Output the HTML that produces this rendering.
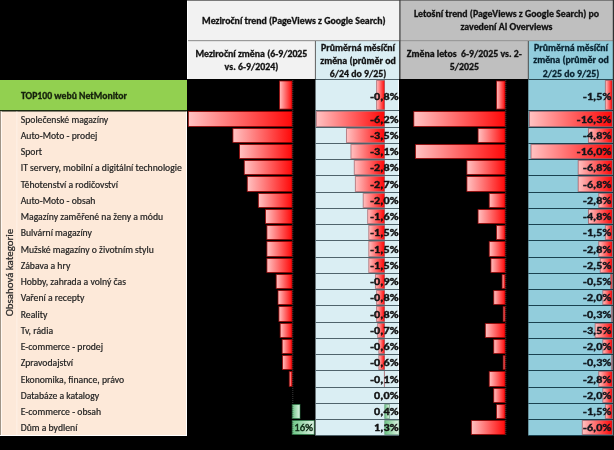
<!DOCTYPE html><html><head><meta charset="utf-8"><style>html,body{margin:0;padding:0;background:#000;overflow:hidden}svg{display:block;filter:blur(0.3px)}</style></head><body>
<svg width="614" height="450" viewBox="0 0 614 450" font-family="Carlito, 'Liberation Sans', sans-serif">
<defs><linearGradient id="gr" x1="0" x2="1" y1="0" y2="0"><stop offset="0" stop-color="#ffc2c2"/><stop offset="1" stop-color="#ff0808"/></linearGradient><linearGradient id="gg" x1="0" x2="1" y1="0" y2="0"><stop offset="0" stop-color="#6cc585"/><stop offset="1" stop-color="#dff3e4"/></linearGradient></defs>
<rect width="614" height="450" fill="#000"/>
<rect x="187" y="0" width="213" height="40.5" fill="#f2f2f2"/>
<rect x="400" y="0" width="214" height="40.5" fill="#bfbfbf"/>
<rect x="187" y="41" width="128.5" height="38" fill="#f2f2f2"/>
<rect x="315.5" y="41" width="84" height="38" fill="#daeef3"/>
<rect x="400" y="41" width="128.3" height="38" fill="#bfbfbf"/>
<rect x="528.3" y="41" width="85.7" height="38" fill="#92cddc"/>
<rect x="187" y="0" width="427" height="1" fill="#7a7a7a"/>
<rect x="187" y="40" width="427" height="1.2" fill="#9a9a9a"/>
<rect x="187" y="1" width="1" height="78" fill="#ffffff"/>
<rect x="399.3" y="0" width="1.2" height="79" fill="#3a3a3a"/>
<rect x="314.9" y="41" width="1" height="38" fill="#666"/>
<rect x="527.8" y="41" width="1" height="38" fill="#555"/>
<text textLength="171.46" lengthAdjust="spacingAndGlyphs" transform="translate(293.80,23.70) scale(1.070,1)" font-size="9.21" font-weight="bold" text-anchor="middle" fill="#111111" stroke="#111111" stroke-width="0.30">Meziroční trend (PageViews z Google Search)</text>
<text textLength="173.13" lengthAdjust="spacingAndGlyphs" transform="translate(506.50,17.00) scale(1.070,1)" font-size="9.21" font-weight="bold" text-anchor="middle" fill="#111111" stroke="#111111" stroke-width="0.30">Letošní trend (PageViews z Google Search) po</text>
<text textLength="85.84" lengthAdjust="spacingAndGlyphs" transform="translate(506.50,29.60) scale(1.070,1)" font-size="9.21" font-weight="bold" text-anchor="middle" fill="#111111" stroke="#111111" stroke-width="0.30">zavedení AI Overviews</text>
<text textLength="104.54" lengthAdjust="spacingAndGlyphs" transform="translate(251.40,57.00) scale(1.070,1)" font-size="9.21" font-weight="bold" text-anchor="middle" fill="#111111" stroke="#111111" stroke-width="0.30">Meziroční změna (6-9/2025</text>
<text textLength="50.09" lengthAdjust="spacingAndGlyphs" transform="translate(251.40,69.90) scale(1.070,1)" font-size="9.21" font-weight="bold" text-anchor="middle" fill="#111111" stroke="#111111" stroke-width="0.30">vs. 6-9/2024)</text>
<text textLength="69.06" lengthAdjust="spacingAndGlyphs" transform="translate(358.00,51.00) scale(1.070,1)" font-size="9.21" font-weight="bold" text-anchor="middle" fill="#111111" stroke="#111111" stroke-width="0.30">Průměrná měsíční</text>
<text textLength="70.61" lengthAdjust="spacingAndGlyphs" transform="translate(358.00,63.60) scale(1.070,1)" font-size="9.21" font-weight="bold" text-anchor="middle" fill="#111111" stroke="#111111" stroke-width="0.30">změna (průměr od</text>
<text textLength="52.73" lengthAdjust="spacingAndGlyphs" transform="translate(358.00,77.00) scale(1.070,1)" font-size="9.21" font-weight="bold" text-anchor="middle" fill="#111111" stroke="#111111" stroke-width="0.30">6/24 do 9/25)</text>
<text textLength="107.49" lengthAdjust="spacingAndGlyphs" transform="translate(464.30,57.00) scale(1.070,1)" font-size="9.21" font-weight="bold" text-anchor="middle" fill="#111111" stroke="#111111" stroke-width="0.30">Změna letos&#160; 6-9/2025 vs. 2-</text>
<text textLength="27.23" lengthAdjust="spacingAndGlyphs" transform="translate(464.30,69.90) scale(1.070,1)" font-size="9.21" font-weight="bold" text-anchor="middle" fill="#111111" stroke="#111111" stroke-width="0.30">5/2025</text>
<text textLength="69.06" lengthAdjust="spacingAndGlyphs" transform="translate(571.00,50.60) scale(1.070,1)" font-size="9.21" font-weight="bold" text-anchor="middle" fill="#08222f" stroke="#08222f" stroke-width="0.30">Průměrná měsíční</text>
<text textLength="70.61" lengthAdjust="spacingAndGlyphs" transform="translate(571.00,63.20) scale(1.070,1)" font-size="9.21" font-weight="bold" text-anchor="middle" fill="#08222f" stroke="#08222f" stroke-width="0.30">změna (průměr od</text>
<text textLength="52.73" lengthAdjust="spacingAndGlyphs" transform="translate(571.00,76.70) scale(1.070,1)" font-size="9.21" font-weight="bold" text-anchor="middle" fill="#08222f" stroke="#08222f" stroke-width="0.30">2/25 do 9/25)</text>
<rect x="0" y="80" width="187" height="30" fill="#92d050"/>
<rect x="0" y="110" width="187" height="1.5" fill="#1a2a10"/>
<rect x="0" y="111.5" width="186.5" height="323.5" fill="#fde9d9"/>
<rect x="0" y="111.5" width="1" height="323.5" fill="#a09486"/>
<rect x="1" y="111.5" width="1" height="323.5" fill="#fff8f2"/>
<rect x="186" y="111.5" width="1" height="324.5" fill="#fff"/>
<rect x="0" y="435" width="187" height="1" fill="#fff"/>
<rect x="16.5" y="111.5" width="0.8" height="323.5" fill="#fff3ec"/>
<text textLength="100.06" lengthAdjust="spacingAndGlyphs" transform="translate(21.00,98.80) scale(1.060,1)" font-size="9.20" font-weight="bold" text-anchor="start" fill="#15200c" stroke="#15200c" stroke-width="0.30">TOP100 webů NetMonitor</text>
<text textLength="87.56" lengthAdjust="spacingAndGlyphs" x="0" y="0" font-size="10.9" font-weight="normal" text-anchor="middle" fill="#2a2a2a" stroke="#2a2a2a" stroke-width="0.25" transform="translate(12.6,272.6) rotate(-90)">Obsahová kategorie</text>
<text textLength="83.75" lengthAdjust="spacingAndGlyphs" transform="translate(20.7,122.80) scale(1.045,1)" font-size="9.3" text-anchor="start" fill="#222" stroke="#222" stroke-width="0.18">Společenské magazíny</text>
<text textLength="73.42" lengthAdjust="spacingAndGlyphs" transform="translate(20.7,138.80) scale(1.045,1)" font-size="9.3" text-anchor="start" fill="#222" stroke="#222" stroke-width="0.18">Auto-Moto - prodej</text>
<text textLength="20.41" lengthAdjust="spacingAndGlyphs" transform="translate(20.7,154.80) scale(1.045,1)" font-size="9.3" text-anchor="start" fill="#222" stroke="#222" stroke-width="0.18">Sport</text>
<text textLength="154.23" lengthAdjust="spacingAndGlyphs" transform="translate(20.7,170.80) scale(1.045,1)" font-size="9.3" text-anchor="start" fill="#222" stroke="#222" stroke-width="0.18">IT servery, mobilní a digitální technologie</text>
<text textLength="93.07" lengthAdjust="spacingAndGlyphs" transform="translate(20.7,187.80) scale(1.045,1)" font-size="9.3" text-anchor="start" fill="#222" stroke="#222" stroke-width="0.18">Těhotenství a rodičovství</text>
<text textLength="71.53" lengthAdjust="spacingAndGlyphs" transform="translate(20.7,203.80) scale(1.045,1)" font-size="9.3" text-anchor="start" fill="#222" stroke="#222" stroke-width="0.18">Auto-Moto - obsah</text>
<text textLength="136.35" lengthAdjust="spacingAndGlyphs" transform="translate(20.7,219.80) scale(1.045,1)" font-size="9.3" text-anchor="start" fill="#222" stroke="#222" stroke-width="0.18">Magazíny zaměřené na ženy a módu</text>
<text textLength="68.17" lengthAdjust="spacingAndGlyphs" transform="translate(20.7,235.80) scale(1.045,1)" font-size="9.3" text-anchor="start" fill="#222" stroke="#222" stroke-width="0.18">Bulvární magazíny</text>
<text textLength="127.31" lengthAdjust="spacingAndGlyphs" transform="translate(20.7,252.80) scale(1.045,1)" font-size="9.3" text-anchor="start" fill="#222" stroke="#222" stroke-width="0.18">Mužské magazíny o životním stylu</text>
<text textLength="47.47" lengthAdjust="spacingAndGlyphs" transform="translate(20.7,268.80) scale(1.045,1)" font-size="9.3" text-anchor="start" fill="#222" stroke="#222" stroke-width="0.18">Zábava a hry</text>
<text textLength="100.77" lengthAdjust="spacingAndGlyphs" transform="translate(20.7,284.80) scale(1.045,1)" font-size="9.3" text-anchor="start" fill="#222" stroke="#222" stroke-width="0.18">Hobby, zahrada a volný čas</text>
<text textLength="61.05" lengthAdjust="spacingAndGlyphs" transform="translate(20.7,300.80) scale(1.045,1)" font-size="9.3" text-anchor="start" fill="#222" stroke="#222" stroke-width="0.18">Vaření a recepty</text>
<text textLength="25.54" lengthAdjust="spacingAndGlyphs" transform="translate(20.7,317.80) scale(1.045,1)" font-size="9.3" text-anchor="start" fill="#222" stroke="#222" stroke-width="0.18">Reality</text>
<text textLength="30.97" lengthAdjust="spacingAndGlyphs" transform="translate(20.7,333.80) scale(1.045,1)" font-size="9.3" text-anchor="start" fill="#222" stroke="#222" stroke-width="0.18">Tv, rádia</text>
<text textLength="78.76" lengthAdjust="spacingAndGlyphs" transform="translate(20.7,349.80) scale(1.045,1)" font-size="9.3" text-anchor="start" fill="#222" stroke="#222" stroke-width="0.18">E-commerce - prodej</text>
<text textLength="50.11" lengthAdjust="spacingAndGlyphs" transform="translate(20.7,365.80) scale(1.045,1)" font-size="9.3" text-anchor="start" fill="#222" stroke="#222" stroke-width="0.18">Zpravodajství</text>
<text textLength="98.94" lengthAdjust="spacingAndGlyphs" transform="translate(20.7,382.80) scale(1.045,1)" font-size="9.3" text-anchor="start" fill="#222" stroke="#222" stroke-width="0.18">Ekonomika, finance, právo</text>
<text textLength="75.07" lengthAdjust="spacingAndGlyphs" transform="translate(20.7,398.80) scale(1.045,1)" font-size="9.3" text-anchor="start" fill="#222" stroke="#222" stroke-width="0.18">Databáze a katalogy</text>
<text textLength="76.86" lengthAdjust="spacingAndGlyphs" transform="translate(20.7,414.80) scale(1.045,1)" font-size="9.3" text-anchor="start" fill="#222" stroke="#222" stroke-width="0.18">E-commerce - obsah</text>
<text textLength="54.25" lengthAdjust="spacingAndGlyphs" transform="translate(20.7,430.80) scale(1.045,1)" font-size="9.3" text-anchor="start" fill="#222" stroke="#222" stroke-width="0.18">Dům a bydlení</text>
<rect x="315.5" y="80" width="83.5" height="355.6" fill="#daeef3"/>
<rect x="398" y="80" width="1" height="355.6" fill="#f4fbff"/>
<rect x="528.3" y="79" width="85.7" height="356.6" fill="#92cddc"/>
<rect x="528.3" y="79" width="85.7" height="1" fill="#2a4a55"/>
<rect x="279.50" y="81.00" width="12.60" height="28.10" fill="url(#gr)" stroke="rgba(150,0,0,0.75)" stroke-width="1"/>
<rect x="376.58" y="80.50" width="7.92" height="29.00" fill="url(#gr)" stroke="rgba(140,60,70,0.55)" stroke-width="1"/>
<rect x="496.52" y="81.00" width="8.58" height="28.10" fill="url(#gr)" stroke="rgba(150,0,0,0.75)" stroke-width="1"/>
<rect x="605.40" y="80.50" width="6.70" height="29.00" fill="url(#gr)" stroke="rgba(140,40,50,0.5)" stroke-width="1"/>
<rect x="188.40" y="111.50" width="103.70" height="15.00" fill="url(#gr)" stroke="rgba(150,0,0,0.75)" stroke-width="1"/>
<rect x="316.37" y="111.50" width="68.13" height="15.00" fill="url(#gr)" stroke="rgba(140,60,70,0.55)" stroke-width="1"/>
<rect x="413.78" y="111.50" width="91.32" height="15.00" fill="url(#gr)" stroke="rgba(150,0,0,0.75)" stroke-width="1"/>
<rect x="529.48" y="111.50" width="82.62" height="15.00" fill="url(#gr)" stroke="rgba(140,40,50,0.5)" stroke-width="1"/>
<rect x="232.90" y="128.50" width="59.20" height="14.00" fill="url(#gr)" stroke="rgba(150,0,0,0.75)" stroke-width="1"/>
<rect x="346.48" y="128.50" width="38.02" height="14.00" fill="url(#gr)" stroke="rgba(140,60,70,0.55)" stroke-width="1"/>
<rect x="478.07" y="128.50" width="27.03" height="14.00" fill="url(#gr)" stroke="rgba(150,0,0,0.75)" stroke-width="1"/>
<rect x="588.48" y="128.50" width="23.62" height="14.00" fill="url(#gr)" stroke="rgba(140,40,50,0.5)" stroke-width="1"/>
<rect x="239.50" y="144.50" width="52.60" height="14.00" fill="url(#gr)" stroke="rgba(150,0,0,0.75)" stroke-width="1"/>
<rect x="350.94" y="144.50" width="33.56" height="14.00" fill="url(#gr)" stroke="rgba(140,60,70,0.55)" stroke-width="1"/>
<rect x="415.46" y="144.50" width="89.64" height="14.00" fill="url(#gr)" stroke="rgba(150,0,0,0.75)" stroke-width="1"/>
<rect x="531.02" y="144.50" width="81.08" height="14.00" fill="url(#gr)" stroke="rgba(140,40,50,0.5)" stroke-width="1"/>
<rect x="244.30" y="160.50" width="47.80" height="14.00" fill="url(#gr)" stroke="rgba(150,0,0,0.75)" stroke-width="1"/>
<rect x="354.28" y="160.50" width="30.22" height="14.00" fill="url(#gr)" stroke="rgba(140,60,70,0.55)" stroke-width="1"/>
<rect x="466.89" y="160.50" width="38.21" height="14.00" fill="url(#gr)" stroke="rgba(150,0,0,0.75)" stroke-width="1"/>
<rect x="578.22" y="160.50" width="33.88" height="14.00" fill="url(#gr)" stroke="rgba(140,40,50,0.5)" stroke-width="1"/>
<rect x="247.30" y="176.50" width="44.80" height="15.00" fill="url(#gr)" stroke="rgba(150,0,0,0.75)" stroke-width="1"/>
<rect x="355.39" y="176.50" width="29.11" height="15.00" fill="url(#gr)" stroke="rgba(140,60,70,0.55)" stroke-width="1"/>
<rect x="466.89" y="176.50" width="38.21" height="15.00" fill="url(#gr)" stroke="rgba(150,0,0,0.75)" stroke-width="1"/>
<rect x="578.22" y="176.50" width="33.88" height="15.00" fill="url(#gr)" stroke="rgba(140,40,50,0.5)" stroke-width="1"/>
<rect x="258.40" y="193.50" width="33.70" height="14.00" fill="url(#gr)" stroke="rgba(150,0,0,0.75)" stroke-width="1"/>
<rect x="363.20" y="193.50" width="21.30" height="14.00" fill="url(#gr)" stroke="rgba(140,60,70,0.55)" stroke-width="1"/>
<rect x="489.25" y="193.50" width="15.85" height="14.00" fill="url(#gr)" stroke="rgba(150,0,0,0.75)" stroke-width="1"/>
<rect x="598.74" y="193.50" width="13.36" height="14.00" fill="url(#gr)" stroke="rgba(140,40,50,0.5)" stroke-width="1"/>
<rect x="265.50" y="209.50" width="26.60" height="14.00" fill="url(#gr)" stroke="rgba(150,0,0,0.75)" stroke-width="1"/>
<rect x="367.66" y="209.50" width="16.84" height="14.00" fill="url(#gr)" stroke="rgba(140,60,70,0.55)" stroke-width="1"/>
<rect x="478.07" y="209.50" width="27.03" height="14.00" fill="url(#gr)" stroke="rgba(150,0,0,0.75)" stroke-width="1"/>
<rect x="588.48" y="209.50" width="23.62" height="14.00" fill="url(#gr)" stroke="rgba(140,40,50,0.5)" stroke-width="1"/>
<rect x="266.90" y="225.50" width="25.20" height="14.00" fill="url(#gr)" stroke="rgba(150,0,0,0.75)" stroke-width="1"/>
<rect x="368.77" y="225.50" width="15.73" height="14.00" fill="url(#gr)" stroke="rgba(140,60,70,0.55)" stroke-width="1"/>
<rect x="496.52" y="225.50" width="8.58" height="14.00" fill="url(#gr)" stroke="rgba(150,0,0,0.75)" stroke-width="1"/>
<rect x="605.40" y="225.50" width="6.70" height="14.00" fill="url(#gr)" stroke="rgba(140,40,50,0.5)" stroke-width="1"/>
<rect x="266.90" y="241.50" width="25.20" height="15.00" fill="url(#gr)" stroke="rgba(150,0,0,0.75)" stroke-width="1"/>
<rect x="368.77" y="241.50" width="15.73" height="15.00" fill="url(#gr)" stroke="rgba(140,60,70,0.55)" stroke-width="1"/>
<rect x="489.25" y="241.50" width="15.85" height="15.00" fill="url(#gr)" stroke="rgba(150,0,0,0.75)" stroke-width="1"/>
<rect x="598.74" y="241.50" width="13.36" height="15.00" fill="url(#gr)" stroke="rgba(140,40,50,0.5)" stroke-width="1"/>
<rect x="266.90" y="258.50" width="25.20" height="14.00" fill="url(#gr)" stroke="rgba(150,0,0,0.75)" stroke-width="1"/>
<rect x="368.77" y="258.50" width="15.73" height="14.00" fill="url(#gr)" stroke="rgba(140,60,70,0.55)" stroke-width="1"/>
<rect x="490.93" y="258.50" width="14.18" height="14.00" fill="url(#gr)" stroke="rgba(150,0,0,0.75)" stroke-width="1"/>
<rect x="600.27" y="258.50" width="11.83" height="14.00" fill="url(#gr)" stroke="rgba(140,40,50,0.5)" stroke-width="1"/>
<rect x="276.20" y="274.50" width="15.90" height="14.00" fill="url(#gr)" stroke="rgba(150,0,0,0.75)" stroke-width="1"/>
<rect x="375.46" y="274.50" width="9.04" height="14.00" fill="url(#gr)" stroke="rgba(140,60,70,0.55)" stroke-width="1"/>
<rect x="502.11" y="274.50" width="3.00" height="14.00" fill="url(#gr)" stroke="rgba(150,0,0,0.75)" stroke-width="1"/>
<rect x="610.53" y="274.50" width="1.57" height="14.00" fill="url(#gr)" stroke="rgba(140,40,50,0.5)" stroke-width="1"/>
<rect x="278.00" y="290.50" width="14.10" height="14.00" fill="url(#gr)" stroke="rgba(150,0,0,0.75)" stroke-width="1"/>
<rect x="376.58" y="290.50" width="7.92" height="14.00" fill="url(#gr)" stroke="rgba(140,60,70,0.55)" stroke-width="1"/>
<rect x="493.72" y="290.50" width="11.38" height="14.00" fill="url(#gr)" stroke="rgba(150,0,0,0.75)" stroke-width="1"/>
<rect x="602.84" y="290.50" width="9.26" height="14.00" fill="url(#gr)" stroke="rgba(140,40,50,0.5)" stroke-width="1"/>
<rect x="278.90" y="306.50" width="13.20" height="15.00" fill="url(#gr)" stroke="rgba(150,0,0,0.75)" stroke-width="1"/>
<rect x="376.58" y="306.50" width="7.92" height="15.00" fill="url(#gr)" stroke="rgba(140,60,70,0.55)" stroke-width="1"/>
<rect x="503.22" y="306.50" width="1.88" height="15.00" fill="url(#gr)" stroke="rgba(150,0,0,0.75)" stroke-width="1"/>
<rect x="611.56" y="306.50" width="0.54" height="15.00" fill="url(#gr)" stroke="rgba(140,40,50,0.5)" stroke-width="1"/>
<rect x="280.20" y="323.50" width="11.90" height="14.00" fill="url(#gr)" stroke="rgba(150,0,0,0.75)" stroke-width="1"/>
<rect x="377.69" y="323.50" width="6.81" height="14.00" fill="url(#gr)" stroke="rgba(140,60,70,0.55)" stroke-width="1"/>
<rect x="485.34" y="323.50" width="19.76" height="14.00" fill="url(#gr)" stroke="rgba(150,0,0,0.75)" stroke-width="1"/>
<rect x="595.14" y="323.50" width="16.96" height="14.00" fill="url(#gr)" stroke="rgba(140,40,50,0.5)" stroke-width="1"/>
<rect x="282.20" y="339.50" width="9.90" height="14.00" fill="url(#gr)" stroke="rgba(150,0,0,0.75)" stroke-width="1"/>
<rect x="378.81" y="339.50" width="5.69" height="14.00" fill="url(#gr)" stroke="rgba(140,60,70,0.55)" stroke-width="1"/>
<rect x="493.72" y="339.50" width="11.38" height="14.00" fill="url(#gr)" stroke="rgba(150,0,0,0.75)" stroke-width="1"/>
<rect x="602.84" y="339.50" width="9.26" height="14.00" fill="url(#gr)" stroke="rgba(140,40,50,0.5)" stroke-width="1"/>
<rect x="282.50" y="355.50" width="9.60" height="14.00" fill="url(#gr)" stroke="rgba(150,0,0,0.75)" stroke-width="1"/>
<rect x="378.81" y="355.50" width="5.69" height="14.00" fill="url(#gr)" stroke="rgba(140,60,70,0.55)" stroke-width="1"/>
<rect x="503.22" y="355.50" width="1.88" height="14.00" fill="url(#gr)" stroke="rgba(150,0,0,0.75)" stroke-width="1"/>
<rect x="611.56" y="355.50" width="0.54" height="14.00" fill="url(#gr)" stroke="rgba(140,40,50,0.5)" stroke-width="1"/>
<rect x="289.30" y="371.50" width="2.80" height="15.00" fill="url(#gr)" stroke="rgba(150,0,0,0.75)" stroke-width="1"/>
<rect x="384.38" y="371.50" width="0.12" height="15.00" fill="url(#gr)" stroke="rgba(140,60,70,0.55)" stroke-width="1"/>
<rect x="489.25" y="371.50" width="15.85" height="15.00" fill="url(#gr)" stroke="rgba(150,0,0,0.75)" stroke-width="1"/>
<rect x="598.74" y="371.50" width="13.36" height="15.00" fill="url(#gr)" stroke="rgba(140,40,50,0.5)" stroke-width="1"/>
<rect x="493.72" y="388.50" width="11.38" height="14.00" fill="url(#gr)" stroke="rgba(150,0,0,0.75)" stroke-width="1"/>
<rect x="602.84" y="388.50" width="9.26" height="14.00" fill="url(#gr)" stroke="rgba(140,40,50,0.5)" stroke-width="1"/>
<rect x="292.20" y="404.50" width="7.80" height="14.00" fill="url(#gg)" stroke="rgba(40,130,70,0.6)" stroke-width="1"/>
<rect x="384.70" y="404.50" width="4.80" height="14.00" fill="url(#gg)" stroke="rgba(60,120,80,0.45)" stroke-width="1"/>
<rect x="496.52" y="404.50" width="8.58" height="14.00" fill="url(#gr)" stroke="rgba(150,0,0,0.75)" stroke-width="1"/>
<rect x="605.40" y="404.50" width="6.70" height="14.00" fill="url(#gr)" stroke="rgba(140,40,50,0.5)" stroke-width="1"/>
<rect x="292.20" y="420.50" width="22.00" height="14.00" fill="url(#gg)" stroke="rgba(40,130,70,0.6)" stroke-width="1"/>
<rect x="384.70" y="420.50" width="14.30" height="14.00" fill="url(#gg)" stroke="rgba(60,120,80,0.45)" stroke-width="1"/>
<rect x="471.36" y="420.50" width="33.74" height="14.00" fill="url(#gr)" stroke="rgba(150,0,0,0.75)" stroke-width="1"/>
<rect x="582.32" y="420.50" width="29.78" height="14.00" fill="url(#gr)" stroke="rgba(140,40,50,0.5)" stroke-width="1"/>
<rect x="315.5" y="110" width="83.5" height="1" fill="#4f636b"/>
<rect x="528.3" y="110" width="85.7" height="1" fill="#1a4250"/>
<rect x="315.5" y="127" width="83.5" height="1" fill="#4f636b"/>
<rect x="528.3" y="127" width="85.7" height="1" fill="#1a4250"/>
<rect x="315.5" y="143" width="83.5" height="1" fill="#4f636b"/>
<rect x="528.3" y="143" width="85.7" height="1" fill="#1a4250"/>
<rect x="315.5" y="159" width="83.5" height="1" fill="#4f636b"/>
<rect x="528.3" y="159" width="85.7" height="1" fill="#1a4250"/>
<rect x="315.5" y="175" width="83.5" height="1" fill="#4f636b"/>
<rect x="528.3" y="175" width="85.7" height="1" fill="#1a4250"/>
<rect x="315.5" y="192" width="83.5" height="1" fill="#4f636b"/>
<rect x="528.3" y="192" width="85.7" height="1" fill="#1a4250"/>
<rect x="315.5" y="208" width="83.5" height="1" fill="#4f636b"/>
<rect x="528.3" y="208" width="85.7" height="1" fill="#1a4250"/>
<rect x="315.5" y="224" width="83.5" height="1" fill="#4f636b"/>
<rect x="528.3" y="224" width="85.7" height="1" fill="#1a4250"/>
<rect x="315.5" y="240" width="83.5" height="1" fill="#4f636b"/>
<rect x="528.3" y="240" width="85.7" height="1" fill="#1a4250"/>
<rect x="315.5" y="257" width="83.5" height="1" fill="#4f636b"/>
<rect x="528.3" y="257" width="85.7" height="1" fill="#1a4250"/>
<rect x="315.5" y="273" width="83.5" height="1" fill="#4f636b"/>
<rect x="528.3" y="273" width="85.7" height="1" fill="#1a4250"/>
<rect x="315.5" y="289" width="83.5" height="1" fill="#4f636b"/>
<rect x="528.3" y="289" width="85.7" height="1" fill="#1a4250"/>
<rect x="315.5" y="305" width="83.5" height="1" fill="#4f636b"/>
<rect x="528.3" y="305" width="85.7" height="1" fill="#1a4250"/>
<rect x="315.5" y="322" width="83.5" height="1" fill="#4f636b"/>
<rect x="528.3" y="322" width="85.7" height="1" fill="#1a4250"/>
<rect x="315.5" y="338" width="83.5" height="1" fill="#4f636b"/>
<rect x="528.3" y="338" width="85.7" height="1" fill="#1a4250"/>
<rect x="315.5" y="354" width="83.5" height="1" fill="#4f636b"/>
<rect x="528.3" y="354" width="85.7" height="1" fill="#1a4250"/>
<rect x="315.5" y="370" width="83.5" height="1" fill="#4f636b"/>
<rect x="528.3" y="370" width="85.7" height="1" fill="#1a4250"/>
<rect x="315.5" y="387" width="83.5" height="1" fill="#4f636b"/>
<rect x="528.3" y="387" width="85.7" height="1" fill="#1a4250"/>
<rect x="315.5" y="403" width="83.5" height="1" fill="#4f636b"/>
<rect x="528.3" y="403" width="85.7" height="1" fill="#1a4250"/>
<rect x="315.5" y="419" width="83.5" height="1" fill="#4f636b"/>
<rect x="528.3" y="419" width="85.7" height="1" fill="#1a4250"/>
<rect x="315.5" y="435" width="83.5" height="1" fill="#4f636b"/>
<rect x="528.3" y="435" width="85.7" height="1" fill="#1a4250"/>
<rect x="315.5" y="79" width="83.5" height="1" fill="#4f636b"/>
<line x1="292.80" y1="80" x2="292.80" y2="435" stroke="#4a4a4a" stroke-width="0.8" stroke-dasharray="1,1"/>
<line x1="505.80" y1="80" x2="505.80" y2="435" stroke="#4a4a4a" stroke-width="0.8" stroke-dasharray="1,1"/>
<rect x="612.8" y="0" width="1.2" height="436" fill="#303030"/>
<text textLength="25.39" lengthAdjust="spacingAndGlyphs" transform="translate(398.70,99.60) scale(1.120,1)" font-size="10.80" font-weight="bold" text-anchor="end" fill="#121212" stroke="#121212" stroke-width="0.4" letter-spacing="0.1">-0,8%</text>
<text textLength="25.39" lengthAdjust="spacingAndGlyphs" transform="translate(611.50,99.60) scale(1.120,1)" font-size="10.80" font-weight="bold" text-anchor="end" fill="#10161c" stroke="#10161c" stroke-width="0.4" letter-spacing="0.1">-1,5%</text>
<text textLength="25.39" lengthAdjust="spacingAndGlyphs" transform="translate(398.70,123.40) scale(1.120,1)" font-size="10.80" font-weight="bold" text-anchor="end" fill="#121212" stroke="#121212" stroke-width="0.4" letter-spacing="0.1">-6,2%</text>
<text textLength="30.96" lengthAdjust="spacingAndGlyphs" transform="translate(611.50,123.40) scale(1.120,1)" font-size="10.80" font-weight="bold" text-anchor="end" fill="#10161c" stroke="#10161c" stroke-width="0.4" letter-spacing="0.1">-16,3%</text>
<text textLength="25.39" lengthAdjust="spacingAndGlyphs" transform="translate(398.70,139.40) scale(1.120,1)" font-size="10.80" font-weight="bold" text-anchor="end" fill="#121212" stroke="#121212" stroke-width="0.4" letter-spacing="0.1">-3,5%</text>
<text textLength="25.39" lengthAdjust="spacingAndGlyphs" transform="translate(611.50,139.40) scale(1.120,1)" font-size="10.80" font-weight="bold" text-anchor="end" fill="#10161c" stroke="#10161c" stroke-width="0.4" letter-spacing="0.1">-4,8%</text>
<text textLength="25.39" lengthAdjust="spacingAndGlyphs" transform="translate(398.70,155.40) scale(1.120,1)" font-size="10.80" font-weight="bold" text-anchor="end" fill="#121212" stroke="#121212" stroke-width="0.4" letter-spacing="0.1">-3,1%</text>
<text textLength="30.96" lengthAdjust="spacingAndGlyphs" transform="translate(611.50,155.40) scale(1.120,1)" font-size="10.80" font-weight="bold" text-anchor="end" fill="#10161c" stroke="#10161c" stroke-width="0.4" letter-spacing="0.1">-16,0%</text>
<text textLength="25.39" lengthAdjust="spacingAndGlyphs" transform="translate(398.70,171.40) scale(1.120,1)" font-size="10.80" font-weight="bold" text-anchor="end" fill="#121212" stroke="#121212" stroke-width="0.4" letter-spacing="0.1">-2,8%</text>
<text textLength="25.39" lengthAdjust="spacingAndGlyphs" transform="translate(611.50,171.40) scale(1.120,1)" font-size="10.80" font-weight="bold" text-anchor="end" fill="#10161c" stroke="#10161c" stroke-width="0.4" letter-spacing="0.1">-6,8%</text>
<text textLength="25.39" lengthAdjust="spacingAndGlyphs" transform="translate(398.70,188.40) scale(1.120,1)" font-size="10.80" font-weight="bold" text-anchor="end" fill="#121212" stroke="#121212" stroke-width="0.4" letter-spacing="0.1">-2,7%</text>
<text textLength="25.39" lengthAdjust="spacingAndGlyphs" transform="translate(611.50,188.40) scale(1.120,1)" font-size="10.80" font-weight="bold" text-anchor="end" fill="#10161c" stroke="#10161c" stroke-width="0.4" letter-spacing="0.1">-6,8%</text>
<text textLength="25.39" lengthAdjust="spacingAndGlyphs" transform="translate(398.70,204.40) scale(1.120,1)" font-size="10.80" font-weight="bold" text-anchor="end" fill="#121212" stroke="#121212" stroke-width="0.4" letter-spacing="0.1">-2,0%</text>
<text textLength="25.39" lengthAdjust="spacingAndGlyphs" transform="translate(611.50,204.40) scale(1.120,1)" font-size="10.80" font-weight="bold" text-anchor="end" fill="#10161c" stroke="#10161c" stroke-width="0.4" letter-spacing="0.1">-2,8%</text>
<text textLength="25.39" lengthAdjust="spacingAndGlyphs" transform="translate(398.70,220.40) scale(1.120,1)" font-size="10.80" font-weight="bold" text-anchor="end" fill="#121212" stroke="#121212" stroke-width="0.4" letter-spacing="0.1">-1,6%</text>
<text textLength="25.39" lengthAdjust="spacingAndGlyphs" transform="translate(611.50,220.40) scale(1.120,1)" font-size="10.80" font-weight="bold" text-anchor="end" fill="#10161c" stroke="#10161c" stroke-width="0.4" letter-spacing="0.1">-4,8%</text>
<text textLength="25.39" lengthAdjust="spacingAndGlyphs" transform="translate(398.70,236.40) scale(1.120,1)" font-size="10.80" font-weight="bold" text-anchor="end" fill="#121212" stroke="#121212" stroke-width="0.4" letter-spacing="0.1">-1,5%</text>
<text textLength="25.39" lengthAdjust="spacingAndGlyphs" transform="translate(611.50,236.40) scale(1.120,1)" font-size="10.80" font-weight="bold" text-anchor="end" fill="#10161c" stroke="#10161c" stroke-width="0.4" letter-spacing="0.1">-1,5%</text>
<text textLength="25.39" lengthAdjust="spacingAndGlyphs" transform="translate(398.70,253.40) scale(1.120,1)" font-size="10.80" font-weight="bold" text-anchor="end" fill="#121212" stroke="#121212" stroke-width="0.4" letter-spacing="0.1">-1,5%</text>
<text textLength="25.39" lengthAdjust="spacingAndGlyphs" transform="translate(611.50,253.40) scale(1.120,1)" font-size="10.80" font-weight="bold" text-anchor="end" fill="#10161c" stroke="#10161c" stroke-width="0.4" letter-spacing="0.1">-2,8%</text>
<text textLength="25.39" lengthAdjust="spacingAndGlyphs" transform="translate(398.70,269.40) scale(1.120,1)" font-size="10.80" font-weight="bold" text-anchor="end" fill="#121212" stroke="#121212" stroke-width="0.4" letter-spacing="0.1">-1,5%</text>
<text textLength="25.39" lengthAdjust="spacingAndGlyphs" transform="translate(611.50,269.40) scale(1.120,1)" font-size="10.80" font-weight="bold" text-anchor="end" fill="#10161c" stroke="#10161c" stroke-width="0.4" letter-spacing="0.1">-2,5%</text>
<text textLength="25.39" lengthAdjust="spacingAndGlyphs" transform="translate(398.70,285.40) scale(1.120,1)" font-size="10.80" font-weight="bold" text-anchor="end" fill="#121212" stroke="#121212" stroke-width="0.4" letter-spacing="0.1">-0,9%</text>
<text textLength="25.39" lengthAdjust="spacingAndGlyphs" transform="translate(611.50,285.40) scale(1.120,1)" font-size="10.80" font-weight="bold" text-anchor="end" fill="#10161c" stroke="#10161c" stroke-width="0.4" letter-spacing="0.1">-0,5%</text>
<text textLength="25.39" lengthAdjust="spacingAndGlyphs" transform="translate(398.70,301.40) scale(1.120,1)" font-size="10.80" font-weight="bold" text-anchor="end" fill="#121212" stroke="#121212" stroke-width="0.4" letter-spacing="0.1">-0,8%</text>
<text textLength="25.39" lengthAdjust="spacingAndGlyphs" transform="translate(611.50,301.40) scale(1.120,1)" font-size="10.80" font-weight="bold" text-anchor="end" fill="#10161c" stroke="#10161c" stroke-width="0.4" letter-spacing="0.1">-2,0%</text>
<text textLength="25.39" lengthAdjust="spacingAndGlyphs" transform="translate(398.70,318.40) scale(1.120,1)" font-size="10.80" font-weight="bold" text-anchor="end" fill="#121212" stroke="#121212" stroke-width="0.4" letter-spacing="0.1">-0,8%</text>
<text textLength="25.39" lengthAdjust="spacingAndGlyphs" transform="translate(611.50,318.40) scale(1.120,1)" font-size="10.80" font-weight="bold" text-anchor="end" fill="#10161c" stroke="#10161c" stroke-width="0.4" letter-spacing="0.1">-0,3%</text>
<text textLength="25.39" lengthAdjust="spacingAndGlyphs" transform="translate(398.70,334.40) scale(1.120,1)" font-size="10.80" font-weight="bold" text-anchor="end" fill="#121212" stroke="#121212" stroke-width="0.4" letter-spacing="0.1">-0,7%</text>
<text textLength="25.39" lengthAdjust="spacingAndGlyphs" transform="translate(611.50,334.40) scale(1.120,1)" font-size="10.80" font-weight="bold" text-anchor="end" fill="#10161c" stroke="#10161c" stroke-width="0.4" letter-spacing="0.1">-3,5%</text>
<text textLength="25.39" lengthAdjust="spacingAndGlyphs" transform="translate(398.70,350.40) scale(1.120,1)" font-size="10.80" font-weight="bold" text-anchor="end" fill="#121212" stroke="#121212" stroke-width="0.4" letter-spacing="0.1">-0,6%</text>
<text textLength="25.39" lengthAdjust="spacingAndGlyphs" transform="translate(611.50,350.40) scale(1.120,1)" font-size="10.80" font-weight="bold" text-anchor="end" fill="#10161c" stroke="#10161c" stroke-width="0.4" letter-spacing="0.1">-2,0%</text>
<text textLength="25.39" lengthAdjust="spacingAndGlyphs" transform="translate(398.70,366.40) scale(1.120,1)" font-size="10.80" font-weight="bold" text-anchor="end" fill="#121212" stroke="#121212" stroke-width="0.4" letter-spacing="0.1">-0,6%</text>
<text textLength="25.39" lengthAdjust="spacingAndGlyphs" transform="translate(611.50,366.40) scale(1.120,1)" font-size="10.80" font-weight="bold" text-anchor="end" fill="#10161c" stroke="#10161c" stroke-width="0.4" letter-spacing="0.1">-0,3%</text>
<text textLength="25.39" lengthAdjust="spacingAndGlyphs" transform="translate(398.70,383.40) scale(1.120,1)" font-size="10.80" font-weight="bold" text-anchor="end" fill="#121212" stroke="#121212" stroke-width="0.4" letter-spacing="0.1">-0,1%</text>
<text textLength="25.39" lengthAdjust="spacingAndGlyphs" transform="translate(611.50,383.40) scale(1.120,1)" font-size="10.80" font-weight="bold" text-anchor="end" fill="#10161c" stroke="#10161c" stroke-width="0.4" letter-spacing="0.1">-2,8%</text>
<text textLength="21.99" lengthAdjust="spacingAndGlyphs" transform="translate(398.70,399.40) scale(1.120,1)" font-size="10.80" font-weight="bold" text-anchor="end" fill="#121212" stroke="#121212" stroke-width="0.4" letter-spacing="0.1">0,0%</text>
<text textLength="25.39" lengthAdjust="spacingAndGlyphs" transform="translate(611.50,399.40) scale(1.120,1)" font-size="10.80" font-weight="bold" text-anchor="end" fill="#10161c" stroke="#10161c" stroke-width="0.4" letter-spacing="0.1">-2,0%</text>
<text textLength="21.99" lengthAdjust="spacingAndGlyphs" transform="translate(398.70,415.40) scale(1.120,1)" font-size="10.80" font-weight="bold" text-anchor="end" fill="#121212" stroke="#121212" stroke-width="0.4" letter-spacing="0.1">0,4%</text>
<text textLength="25.39" lengthAdjust="spacingAndGlyphs" transform="translate(611.50,415.40) scale(1.120,1)" font-size="10.80" font-weight="bold" text-anchor="end" fill="#10161c" stroke="#10161c" stroke-width="0.4" letter-spacing="0.1">-1,5%</text>
<text textLength="21.99" lengthAdjust="spacingAndGlyphs" transform="translate(398.70,431.40) scale(1.120,1)" font-size="10.80" font-weight="bold" text-anchor="end" fill="#121212" stroke="#121212" stroke-width="0.4" letter-spacing="0.1">1,3%</text>
<text textLength="25.39" lengthAdjust="spacingAndGlyphs" transform="translate(611.50,431.40) scale(1.120,1)" font-size="10.80" font-weight="bold" text-anchor="end" fill="#10161c" stroke="#10161c" stroke-width="0.4" letter-spacing="0.1">-6,0%</text>
<text textLength="18.67" lengthAdjust="spacingAndGlyphs" x="313.0" y="431.4" font-size="10.80" font-weight="normal" text-anchor="end" fill="#0d2a14" stroke="#0d2a14" stroke-width="0.45">16%</text>
</svg></body></html>
